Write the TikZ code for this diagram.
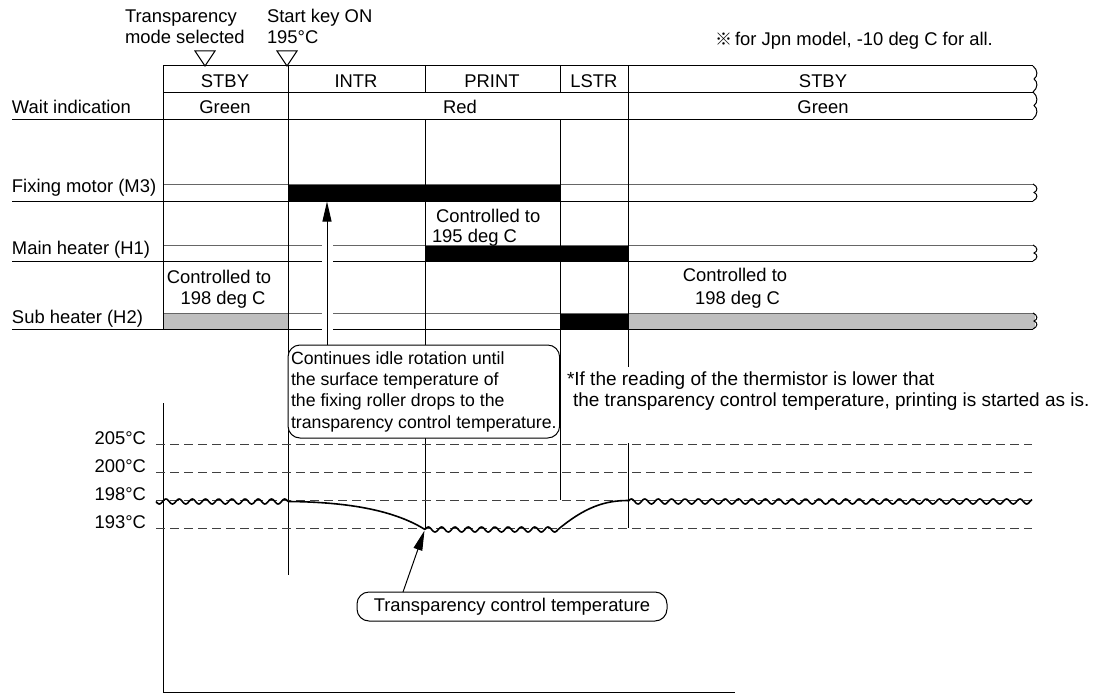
\documentclass[tikz,border=0pt]{standalone}
\usepackage{fontspec}
\setmainfont{Liberation Sans}
\newfontfamily\cjkfont{Noto Sans CJK JP}
\usetikzlibrary{arrows.meta}
\begin{document}
\begin{tikzpicture}[x=1pt,y=-1pt,
  every node/.style={font=\fontsize{18.4pt}{21.3pt}\selectfont, inner sep=0pt, outer sep=0pt},
  lbl/.style={anchor=base west},
  ctr/.style={anchor=base},
  rgt/.style={anchor=base east},
  grid/.style={line width=1pt, black},
  lightgrid/.style={line width=1pt, black!60},
  dashline/.style={line width=0.9pt, black!75, dash pattern=on 9pt off 5pt},
  curve/.style={line width=1.6pt, black, line join=round},
  arr/.style={line width=1pt, -{Triangle[length=20pt,width=9pt]}},
  callout/.style={draw, line width=1pt, rounded corners=12pt, fill=white},
  brk/.style={line width=1pt},
  marker/.style={line width=1pt, fill=white},
  footnote/.style={anchor=base west, font=\fontsize{19pt}{21.3pt}\selectfont}]

\useasboundingbox (0,0) rectangle (1097,693);

% ---- bars ----
\fill[black] (288,184) rectangle (560,201);
\fill[black] (425,245) rectangle (628,261);
\fill[black] (560,313) rectangle (628,329);
\fill[black!25] (163,313) rectangle (288,329);
\fill[black!25] (628,313) rectangle (1035,329);

% ---- header table ----
\draw[grid] (163,66) -- (1033,66);
\draw[grid] (163,92) -- (1033,92);
\draw[grid] (12,119) -- (1033,119);

% ---- row lines ----
\draw[lightgrid] (163,184) -- (1033,184);
\draw[grid] (12,201) -- (1033,201);
\draw[lightgrid] (163,245) -- (322,245) (333,245) -- (1033,245);
\draw[grid] (12,261) -- (322,261) (333,261) -- (1033,261);
\draw[lightgrid] (163,313) -- (322,313) (333,313) -- (1033,313);
\draw[grid] (12,329) -- (322,329) (333,329) -- (1033,329);

% ---- break marks ----
\foreach \a/\b in {66/92, 92/119, 184/201, 245/261, 313/329}{
  \draw[brk] (1033,\a) .. controls (1038,{\a+0.15*(\b-\a)}) and (1038,{\a+0.4*(\b-\a)}) .. (1034,{\a+0.5*(\b-\a)})
                        .. controls (1038,{\a+0.6*(\b-\a)}) and (1038,{\a+0.85*(\b-\a)}) .. (1033,\b);
}

% ---- vertical lines ----
\draw[grid] (163,66) -- (163,329);
\draw[grid] (288,66) -- (288,575);
\draw[grid] (425,66) -- (425,92) (425,119) -- (425,528);
\draw[grid] (560,66) -- (560,92) (560,119) -- (560,500);
\draw[grid] (628,66) -- (628,367) (628,443) -- (628,528);

% ---- temperature axis ----
\draw[grid] (163,403) -- (163,692) -- (735,692);
\foreach \yy in {444,472,500,528}{ \draw[dashline] (156,\yy) -- (1032,\yy); }
\node[rgt] (t205) at (146,444) {205°C};
\node[rgt] (t200) at (146,472) {200°C};
\node[rgt] (t198) at (146,500) {198°C};
\node[rgt] (t193) at (146,528) {193°C};

% ---- temperature curve ----
\draw[curve] plot[domain=156:288, samples=160, smooth] (\x,{501.5+2.5*sin((\x-156)/13.2*360)});
\draw[curve] (288,501.5) .. controls (360,502) and (400,514) .. (425,529.5);
\draw[curve] plot[domain=425:558, samples=160, smooth] (\x,{529.5-2.5*sin((\x-425)/13.3*360)});
\draw[curve] (558,529.5) .. controls (585,507) and (605,500.5) .. (628,500.5);
\draw[curve] plot[domain=628:1032, samples=480, smooth] (\x,{501.5-2.5*sin((\x-628)/13.4*360)});

% ---- markers ----
\draw[marker] (195,51) -- (215,51) -- (205,66) -- cycle;
\draw[marker] (277,51) -- (297,51) -- (287,66) -- cycle;

% ---- top texts ----
\node[lbl] (tm1) at (125,23) {Transparency};
\node[lbl] (tm2) at (125,44) {mode selected};
\node[lbl] (sk1) at (267,23) {Start key ON};
\node[lbl] (sk2) at (267,44) {195°C};
\node[lbl] (jpn) at (715,46) {{\cjkfont\fontsize{17pt}{17pt}\selectfont ※}\hspace{-2pt} for Jpn model, -10 deg C for all.};

% ---- header labels ----
\node[ctr] (h1) at (225,87) {STBY};
\node[ctr] (h2) at (356,87) {INTR};
\node[ctr] (h3) at (492,87) {PRINT};
\node[ctr] (h4) at (594,87) {LSTR};
\node[ctr] (h5) at (823,87) {STBY};
\node[ctr] (w1) at (225,113) {Green};
\node[ctr] (w2) at (460,113) {Red};
\node[ctr] (w3) at (823,113) {Green};
\node[lbl] (wl) at (12,113) {Wait indication};

% ---- row labels ----
\node[lbl] (fm) at (12,192) {Fixing motor (M3)};
\node[lbl] (mh) at (12,254) {Main heater (H1)};
\node[lbl] (sh) at (12,323) {Sub heater (H2)};

\node[ctr] (c1a) at (219,283) {Controlled to};
\node[ctr] (c1b) at (223,304) {198 deg C};
\node[lbl] (c2a) at (436,222) {Controlled to};
\node[lbl] (c2b) at (432,242) {195 deg C};
\node[ctr] (c3a) at (735,281) {Controlled to};
\node[ctr] (c3b) at (737.5,304) {198 deg C};

% ---- callouts ----
\node[callout, font=\fontsize{17.7pt}{21.3pt}\selectfont, align=left, inner xsep=3pt,
      minimum width=270pt, minimum height=93pt, anchor=north west]
  (note1) at (288,345) {Continues idle rotation until\\the surface temperature of\\the fixing roller drops to the\\transparency control temperature.};
\coordinate (fmtip) at (327,201.5);
\draw[arr] (note1.north -| fmtip) -- (fmtip);

\node[callout, minimum width=310pt, minimum height=29pt] (note2) at (512,606.5) {Transparency control temperature};
\coordinate (dip) at (424.5,530.5);
\draw[arr] ([xshift=46pt]note2.north west) -- (dip);

% ---- footnote ----
\node[footnote] (n1) at (567,385) {*If the reading of the thermistor is lower that};
\node[footnote] (n2) at (573,406) {the transparency control temperature, printing is started as is.};
\end{tikzpicture}
\end{document}
